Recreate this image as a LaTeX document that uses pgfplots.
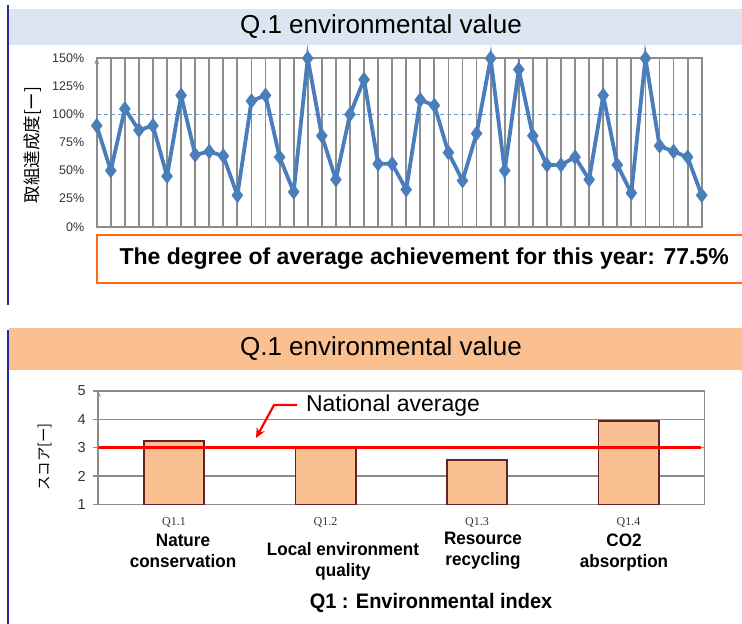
\documentclass[border=0pt]{standalone}
\usepackage{pgfplots}
\pgfplotsset{compat=1.18}
\usepackage{pgfplotstable}
\usepackage{fontspec}
\setmainfont{Liberation Sans}
\newfontfamily\narrow{Liberation Sans}[FakeStretch=0.95]
\newfontfamily\jp{Noto Sans CJK JP}
\newfontfamily\serifq{Liberation Serif}
\usetikzlibrary{arrows.meta}
\definecolor{lineblue}{HTML}{4A7EBB}
\definecolor{bandblue}{HTML}{DCE6F2}
\definecolor{bandpeach}{HTML}{FAC090}
\definecolor{barfill}{HTML}{F9C091}
\definecolor{bardraw}{HTML}{632523}
\definecolor{gridgray}{HTML}{8C8C8C}
\definecolor{boxorange}{HTML}{FF6A10}
\definecolor{sideblue}{HTML}{2B2B9E}

\pgfplotstableread{
x y
1 90
2 50
3 105
4 86
5 90
6 45
7 117
8 64
9 67
10 63
11 28
12 112
13 117
14 62
15 31
16 150
17 81
18 42
19 100
20 131
21 56
22 56
23 33
24 113
25 108
26 66
27 41
28 83
29 150
30 50
31 140
32 81
33 55
34 55
35 62
36 42
37 117
38 55
39 30
40 150
41 72
42 67
43 62
44 28
}\topdata

\pgfplotstableread{
x y
1 3.23
2 3.02
3 2.56
4 3.94
}\bardata

\begin{document}
\begin{tikzpicture}
\useasboundingbox (0pt,0pt) rectangle (742pt,-624pt);
\begin{scope}[x=1pt,y=-1pt]
% top panel
\fill[bandblue] (9,9) rectangle (742,45);
\node[font=\fontsize{26}{30}\selectfont] at (381,27) {Q.1 environmental value};
\draw[sideblue, line width=2pt] (8,5) -- (8,305);
\end{scope}

\begin{axis}[at={(96.7pt,-226.7pt)}, anchor=south west, scale only axis,
  width=605pt, height=168.4pt,
  xmin=1, xmax=44, ymin=0, ymax=150,
  xtick={1,...,44}, xticklabels={}, xmajorgrids,
  major grid style={gridgray, line width=1.8pt},
  ytick={0,25,...,150},
  yticklabel={\pgfmathprintnumber{\tick}\%},
  /pgf/number format/assume math mode=true,
  yticklabel style={font=\fontsize{12.5}{12.5}\selectfont, text=black!80, xshift=-9pt},
  major tick length=0pt,
  axis line style={gridgray, line width=1.8pt},
  clip=false]
\addplot[lineblue!80, dash pattern=on 4pt off 3pt, line width=1.2pt] coordinates {(1,100) (44,100)};
\draw[gridgray, line width=1pt, -{Stealth[length=6pt,width=5pt]}] (axis cs:1,0) -- (axis cs:1,150);
\addplot[lineblue, line width=3.8pt, mark=diamond*, mark size=4.6pt, mark options={solid}] table[x=x,y=y]{\topdata};
\end{axis}

\begin{axis}[at={(98.3pt,-504.3pt)}, anchor=south west, scale only axis,
  width=606pt, height=113.3pt,
  xmin=0.5, xmax=4.5, ymin=1, ymax=5,
  xtick={1,2,3,4}, xticklabels={Q1.1,Q1.2,Q1.3,Q1.4},
  xticklabel style={font=\serifq\fontsize{12}{12}\selectfont, text=black!80, yshift=-5pt},
  x tick style={draw=none},
  ytick={1,...,5}, ymajorgrids, ytick pos=left,
  y tick style={gridgray, line width=1.6pt},
  major tick length=5pt, tick align=outside,
  major grid style={gridgray, line width=1.6pt},
  /pgf/number format/assume math mode=true,
  yticklabel style={font=\fontsize{14.5}{14.5}\selectfont, text=black!80, xshift=-4pt},
  axis line style={gridgray, line width=1.6pt}]
\draw[gridgray, line width=1.2pt, -{Stealth[length=6pt,width=5pt]}] (axis cs:0.5,1) -- (axis cs:0.5,5);
\addplot[ybar, bar width=60.3pt, fill=barfill, draw=bardraw, line width=1.6pt] table[x=x,y=y]{\bardata};
\addplot[red, line width=3pt] coordinates {(0.5,3) (4.478,3)};
\end{axis}

\begin{scope}[x=1pt,y=-1pt]
\node[rotate=90, font=\jp\fontsize{17.5}{17.5}\selectfont] at (33,145) {取組達成度[ー]};

\draw[boxorange, line width=2.5pt, fill=white] (97,235) rectangle (760,283);
\node[font=\bfseries\fontsize{23}{23}\selectfont, anchor=west] at (116,259) {The degree of average achievement for this year: 77.5\%};

% bottom panel
\fill[bandpeach] (9,328) rectangle (742,370);
\node[font=\fontsize{26}{30}\selectfont] at (381,349) {Q.1 environmental value};
\draw[sideblue, line width=2pt] (8,330) -- (8,624);

\node[rotate=90, font=\jp\fontsize{14.5}{14.5}\selectfont] at (45,457) {スコア[ー]};

\draw[red, line width=2.2pt, -{Stealth[length=10pt,width=9pt]}] (297,405) -- (274,405) -- (256,438);
\node[font=\fontsize{23}{23}\selectfont] at (393,406) {National average};

\begin{scope}[every node/.style={align=center, font=\narrow\bfseries\fontsize{18}{21}\selectfont}]
\node at (183,551) {Nature\\conservation};
\node at (343,561) {Local environment\\quality};
\node at (483,550.5) {Resource\\recycling};
\node at (624,552.5) {CO2\\absorption};
\end{scope}
\node[font=\narrow\bfseries\fontsize{21}{21}\selectfont] at (431,603) {Q1 : Environmental index};
\end{scope}
\end{tikzpicture}
\end{document}
